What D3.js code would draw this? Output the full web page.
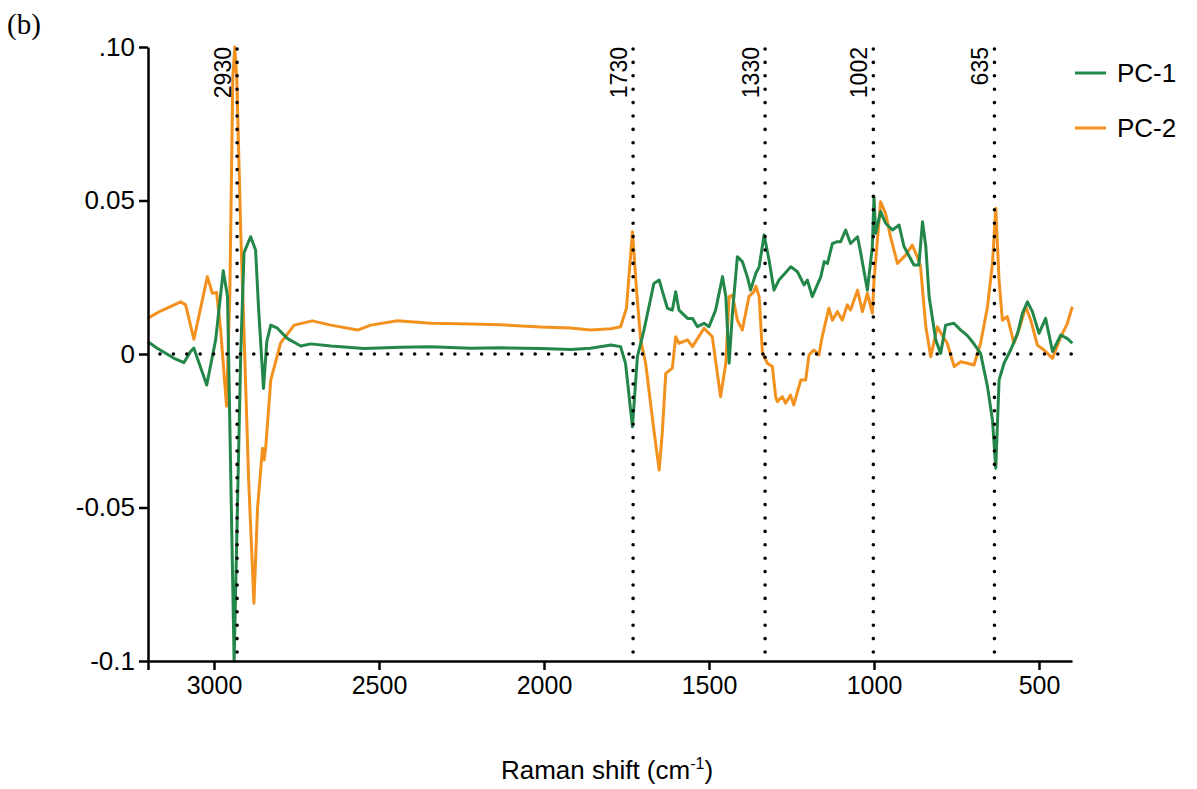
<!DOCTYPE html>
<html>
<head>
<meta charset="utf-8">
<script src="https://cdn.jsdelivr.net/npm/d3@7"></script>
<style>
  html, body { margin: 0; padding: 0; background: #fff; }
  svg { display: block; }
  text { font-family: "Liberation Sans", Arial, sans-serif; fill: #000; }
</style>
</head>
<body>
<svg id="chart" width="1197" height="789"></svg>
<script>
// ---- Data ----
const pc1Shift = [3200,3172,3121,3091,3071,3061,3022,2995,2972,2959,2949,2939,2929,2919,2909,2889,2874,2865,2850,2840,2828,2808,2778,2737,2707,2646,2545,2434,2343,2222,2131,2010,1919,1859,1797,1768,1753,1732,1717,1697,1667,1651,1641,1626,1611,1601,1591,1565,1550,1535,1515,1500,1480,1459,1449,1439,1429,1414,1399,1384,1374,1358,1348,1333,1318,1303,1288,1252,1232,1212,1202,1187,1161,1151,1141,1126,1111,1101,1086,1071,1050,1040,1020,1005,1000,995,980,965,944,924,909,879,864,853,843,833,813,798,783,758,737,717,702,677,656,641,631,621,606,586,565,550,535,520,500,480,459,434,414,399];
const pc1Values = [0.004,0.0019,-0.0014,-0.0028,0.0008,0.0019,-0.0101,0.0046,0.0271,0.0187,-0.041,-0.1,-0.05,0.0,0.033,0.0382,0.0339,0.015,-0.0112,0.004,0.0094,0.0084,0.0051,0.0026,0.0033,0.0026,0.0018,0.0022,0.0024,0.0019,0.002,0.0018,0.0015,0.0019,0.0029,0.0024,-0.003,-0.0237,-0.0009,0.0078,0.023,0.0241,0.0203,0.0149,0.0143,0.0203,0.0143,0.0116,0.0116,0.0089,0.01,0.0089,0.0143,0.0252,0.0187,-0.003,0.0133,0.0317,0.0301,0.0252,0.0208,0.0263,0.0284,0.0388,0.0306,0.0208,0.0241,0.0284,0.0268,0.0225,0.0241,0.0187,0.0252,0.0301,0.0295,0.036,0.0366,0.0366,0.0404,0.036,0.0382,0.0328,0.0208,0.035,0.0512,0.0393,0.0464,0.0426,0.0404,0.042,0.035,0.029,0.029,0.0431,0.035,0.0187,0.0046,0.0002,0.0094,0.01,0.0078,0.006,0.004,0.0002,-0.0107,-0.0215,-0.0372,-0.0085,-0.003,0.0013,0.0067,0.0133,0.017,0.0138,0.0067,0.0116,0.0008,0.0062,0.005,0.0035];

const pc2Shift = [3200,3162,3101,3086,3061,3020,3005,2992,2980,2962,2952,2943,2937,2931,2919,2907,2895,2879,2868,2853,2848,2843,2828,2798,2757,2702,2646,2565,2525,2444,2343,2222,2131,2010,1919,1859,1797,1768,1750,1732,1719,1707,1692,1667,1651,1641,1631,1611,1601,1591,1565,1550,1515,1490,1465,1449,1439,1429,1414,1399,1379,1364,1358,1348,1338,1323,1308,1298,1293,1278,1268,1253,1243,1222,1207,1197,1182,1167,1157,1137,1126,1111,1096,1081,1071,1050,1035,1020,1005,1000,980,965,950,929,904,884,869,859,843,828,808,793,778,757,737,717,697,677,656,641,631,621,611,596,576,561,540,525,505,485,459,434,414,399];
const pc2Values = [0.0117,0.014,0.017,0.016,0.0048,0.0252,0.0198,0.02,0.008,-0.017,0.02,0.09,0.1,0.09,0.04,0.0,-0.041,-0.0812,-0.05,-0.0307,-0.0345,-0.03,-0.0085,0.0036,0.0094,0.0108,0.0094,0.0078,0.0094,0.0108,0.01,0.0098,0.0095,0.0088,0.0085,0.0078,0.0082,0.0089,0.015,0.0398,0.02,0.0046,-0.003,-0.0248,-0.0378,-0.0248,-0.0063,-0.0046,0.0056,0.0035,0.0046,0.0024,0.0084,0.0056,-0.0139,-0.003,0.0187,0.0192,0.011,0.0078,0.0187,0.0203,0.0221,0.0187,0.0002,-0.003,-0.0041,-0.0139,-0.0155,-0.0139,-0.016,-0.0134,-0.0166,-0.0085,-0.0085,-0.0003,0.0013,-0.0003,0.0056,0.0149,0.011,0.0138,0.011,0.016,0.0143,0.0208,0.0138,0.0198,0.0133,0.024,0.0496,0.0458,0.0382,0.0295,0.0322,0.0355,0.0317,0.0284,0.0089,-0.0009,0.0089,0.006,0.0035,-0.0041,-0.0025,-0.003,-0.0036,0.0035,0.0154,0.0295,0.0475,0.024,0.011,0.0122,0.0035,0.0078,0.0154,0.011,0.0029,0.0013,-0.0014,0.0056,0.01,0.0154];

const peakShifts = [2930, 1730, 1330, 1002, 635];
const peakLabels = ["2930", "1730", "1330", "1002", "635"];

const xTickValues = [3200, 3000, 2500, 2000, 1500, 1000, 500];
const xTickLabels = ["", "3000", "2500", "2000", "1500", "1000", "500"];
const yTickValues = [-0.1, -0.05, 0, 0.05, 0.1];
const yTickLabels = ["-0.1", "-0.05", "0", "0.05", ".10"];

const seriesNames = ["PC-1", "PC-2"];
const seriesColors = ["#23874a", "#f3911f"];

// ---- Layout ----
const svg = d3.select("#chart");
const L = 148, R = 1072, T = 47, B = 661;

const x = d3.scaleLinear().domain([3200, 400]).range([L, R]);
const y = d3.scaleLinear().domain([-0.1, 0.1]).range([B, T]);

// Panel label
svg.append("text").attr("x", 7).attr("y", 34)
  .style("font-family", "'Liberation Serif', 'Times New Roman', serif")
  .style("font-size", "29px").text("(b)");

// Data lines
const line = d3.line().x(d => x(d[0])).y(d => y(d[1]));
const pc1 = pc1Shift.map((s, i) => [s, pc1Values[i]]);
const pc2 = pc2Shift.map((s, i) => [s, pc2Values[i]]);

svg.append("path").datum(pc2).attr("d", line)
  .attr("fill", "none").attr("stroke", seriesColors[1])
  .attr("stroke-width", 3).attr("stroke-linejoin", "round");
svg.append("path").datum(pc1).attr("d", line)
  .attr("fill", "none").attr("stroke", seriesColors[0])
  .attr("stroke-width", 3).attr("stroke-linejoin", "round");

// Dotted zero line
svg.append("line")
  .attr("x1", x(3200) + 12).attr("x2", R)
  .attr("y1", y(0)).attr("y2", y(0))
  .attr("stroke", "#000").attr("stroke-width", 3.6)
  .attr("stroke-linecap", "round").attr("stroke-dasharray", "0 13.4");

// Dotted peak lines + labels
const peaks = svg.append("g");
peakShifts.forEach((p, i) => {
  peaks.append("line")
    .attr("x1", x(p)).attr("x2", x(p))
    .attr("y1", y(0.1) + 2).attr("y2", B)
    .attr("stroke", "#000").attr("stroke-width", 3.6)
    .attr("stroke-linecap", "round").attr("stroke-dasharray", "0 13.4");
  peaks.append("text")
    .attr("transform", `translate(${x(p) - 6},${y(0.1)}) rotate(-90)`)
    .attr("text-anchor", "end")
    .style("font-size", "23px")
    .text(peakLabels[i]);
});

// Axes
const xAxis = d3.axisBottom(x).tickValues(xTickValues)
  .tickFormat((d, i) => xTickLabels[i]).tickSize(9).tickSizeOuter(0).tickPadding(6);
const gx = svg.append("g").attr("transform", `translate(0,${B})`).call(xAxis);
gx.select(".domain").attr("stroke-width", 2.5);
gx.selectAll(".tick line").attr("stroke-width", 2.5);
gx.selectAll(".tick text").style("font-size", "25px")
  .style("font-family", "'Liberation Sans', Arial, sans-serif");

const yAxis = d3.axisLeft(y).tickValues(yTickValues)
  .tickFormat((d, i) => yTickLabels[i]).tickSize(9).tickSizeOuter(0).tickPadding(4);
const gy = svg.append("g").attr("transform", `translate(${L},0)`).call(yAxis);
gy.select(".domain").attr("stroke-width", 2.5);
gy.selectAll(".tick line").attr("stroke-width", 2.5);
gy.selectAll(".tick text").style("font-size", "26px")
  .style("font-family", "'Liberation Sans', Arial, sans-serif");

// X axis title
const xt = svg.append("text").attr("x", 607).attr("y", 779)
  .attr("text-anchor", "middle").style("font-size", "26px");
xt.append("tspan").text("Raman shift (cm");
xt.append("tspan").attr("dy", -10).style("font-size", "16px").text("-1");
xt.append("tspan").attr("dy", 10).text(")");

// Legend
const lg = svg.append("g");
seriesNames.forEach((n, i) => {
  const ly = 73 + i * 55;
  lg.append("line").attr("x1", 1075).attr("x2", 1106).attr("y1", ly).attr("y2", ly)
    .attr("stroke", seriesColors[i]).attr("stroke-width", 3);
  lg.append("text").attr("x", 1117).attr("y", ly + 9).style("font-size", "26px").text(n);
});
</script>
</body>
</html>
